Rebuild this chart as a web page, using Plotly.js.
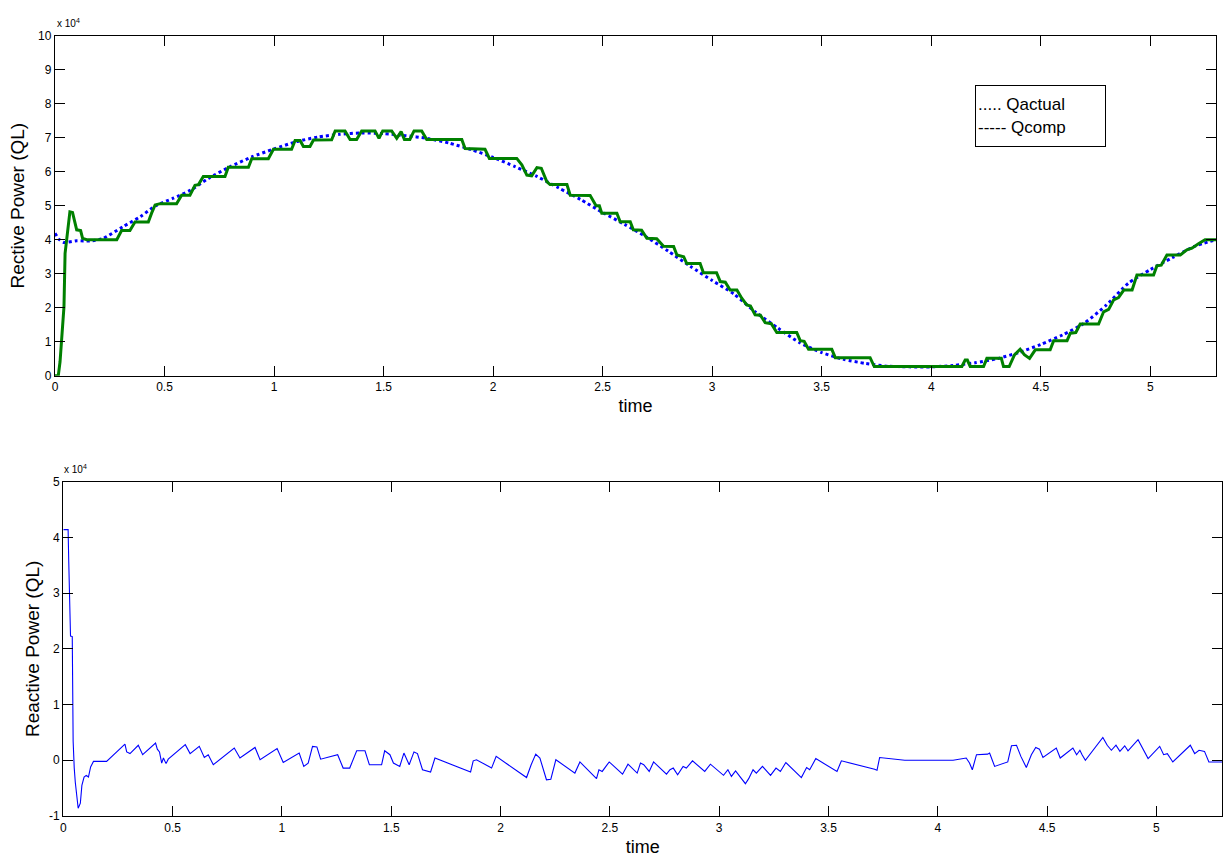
<!DOCTYPE html>
<html>
<head>
<meta charset="utf-8">
<script src="https://cdn.plot.ly/plotly-3.0.1.min.js"></script>
<style>
  html, body { margin: 0; padding: 0; background: #fff; }
  #chart { width: 1223px; height: 861px; }
</style>
</head>
<body>
<div id="chart"></div>
<script>
// ---- Data (values in units of 1e4) ----
const qActualTime = [0, 0.02, 0.04, 0.1, 0.16, 0.22, 0.31, 0.39, 0.46, 0.54, 0.62, 0.7, 0.8, 0.9, 1.0, 1.1, 1.2, 1.3, 1.4, 1.5, 1.6, 1.7, 1.8, 1.9, 2.0, 2.1, 2.2, 2.3, 2.4, 2.5, 2.6, 2.7, 2.8, 2.9, 3.0, 3.1, 3.2, 3.3, 3.4, 3.5, 3.6, 3.7, 3.8, 3.9, 4.0, 4.1, 4.2, 4.3, 4.4, 4.5, 4.6, 4.7, 4.8, 4.9, 5.0, 5.1, 5.2, 5.3];
const qActualValue = [4.19, 4.0, 3.92, 3.97, 3.96, 4.04, 4.38, 4.68, 5.0, 5.22, 5.46, 5.8, 6.15, 6.44, 6.67, 6.88, 7.02, 7.1, 7.14, 7.12, 7.06, 6.98, 6.84, 6.65, 6.42, 6.15, 5.86, 5.52, 5.18, 4.8, 4.45, 4.08, 3.66, 3.22, 2.8, 2.4, 1.86, 1.4, 0.97, 0.68, 0.48, 0.36, 0.28, 0.26, 0.26, 0.3, 0.38, 0.5, 0.68, 0.92, 1.2, 1.55, 2.08, 2.72, 3.12, 3.47, 3.8, 4.0];

const qCompTime = [0, 0.015, 0.023, 0.03, 0.035, 0.041, 0.046, 0.053, 0.061, 0.068, 0.08, 0.088, 0.099, 0.117, 0.126, 0.145, 0.282, 0.304, 0.342, 0.365, 0.426, 0.441, 0.457, 0.48, 0.555, 0.578, 0.616, 0.639, 0.655, 0.677, 0.776, 0.791, 0.883, 0.898, 0.974, 0.997, 1.08, 1.096, 1.119, 1.134, 1.164, 1.18, 1.263, 1.279, 1.324, 1.347, 1.377, 1.40, 1.461, 1.479, 1.496, 1.537, 1.56, 1.58, 1.595, 1.62, 1.639, 1.674, 1.697, 1.857, 1.872, 1.963, 1.983, 2.108, 2.131, 2.154, 2.176, 2.2, 2.22, 2.245, 2.26, 2.337, 2.352, 2.443, 2.47, 2.485, 2.496, 2.565, 2.58, 2.626, 2.64, 2.678, 2.702, 2.747, 2.778, 2.824, 2.839, 2.87, 2.884, 2.945, 2.96, 3.02, 3.037, 3.06, 3.082, 3.113, 3.135, 3.158, 3.175, 3.196, 3.22, 3.242, 3.27, 3.295, 3.386, 3.402, 3.42, 3.44, 3.546, 3.562, 3.721, 3.74, 4.14, 4.155, 4.165, 4.178, 4.239, 4.254, 4.32, 4.33, 4.356, 4.38, 4.406, 4.425, 4.449, 4.475, 4.543, 4.559, 4.62, 4.635, 4.66, 4.68, 4.764, 4.787, 4.81, 4.833, 4.855, 4.879, 4.917, 4.939, 5.015, 5.03, 5.05, 5.076, 5.137, 5.167, 5.19, 5.22, 5.25, 5.3];
const qCompValue = [0, 0, 0.41, 1.15, 1.6, 2.03, 3.6, 4.04, 4.38, 4.82, 4.8, 4.58, 4.29, 4.27, 4.04, 4.0, 4.0, 4.27, 4.27, 4.52, 4.52, 4.78, 5.02, 5.06, 5.06, 5.31, 5.31, 5.6, 5.62, 5.86, 5.86, 6.13, 6.13, 6.38, 6.38, 6.66, 6.66, 6.92, 6.92, 6.74, 6.74, 6.93, 6.94, 7.2, 7.2, 6.95, 6.95, 7.2, 7.2, 6.98, 7.2, 7.2, 6.98, 7.18, 6.95, 6.95, 7.2, 7.2, 6.95, 6.95, 6.68, 6.66, 6.39, 6.39, 6.2, 5.9, 5.88, 6.12, 6.1, 5.71, 5.62, 5.62, 5.31, 5.3, 5.0, 5.0, 4.78, 4.78, 4.53, 4.53, 4.29, 4.28, 4.04, 4.03, 3.81, 3.8, 3.55, 3.5, 3.3, 3.3, 3.03, 3.03, 2.77, 2.75, 2.52, 2.52, 2.28, 2.08, 2.05, 1.79, 1.78, 1.56, 1.53, 1.27, 1.27, 1.03, 1.01, 0.78, 0.78, 0.53, 0.53, 0.27, 0.27, 0.46, 0.46, 0.27, 0.27, 0.51, 0.51, 0.27, 0.27, 0.61, 0.78, 0.62, 0.51, 0.76, 0.76, 1.03, 1.03, 1.25, 1.27, 1.52, 1.52, 1.88, 1.95, 2.23, 2.3, 2.52, 2.52, 2.96, 2.96, 3.23, 3.25, 3.55, 3.55, 3.7, 3.75, 3.88, 4.0, 4.0];

const qDiffTime = [0, 0.022, 0.025, 0.033, 0.041, 0.045, 0.05, 0.055, 0.068, 0.078, 0.085, 0.095, 0.105, 0.115, 0.125, 0.138, 0.198, 0.282, 0.29, 0.305, 0.343, 0.363, 0.422, 0.43, 0.44, 0.45, 0.458, 0.47, 0.48, 0.558, 0.58, 0.622, 0.645, 0.663, 0.686, 0.782, 0.808, 0.877, 0.9, 0.978, 1.006, 1.079, 1.1, 1.12, 1.14, 1.16, 1.177, 1.255, 1.28, 1.31, 1.342, 1.38, 1.40, 1.456, 1.47, 1.494, 1.51, 1.539, 1.558, 1.582, 1.604, 1.62, 1.643, 1.68, 1.70, 1.863, 1.875, 1.89, 1.959, 1.98, 2.119, 2.14, 2.161, 2.18, 2.21, 2.23, 2.253, 2.34, 2.363, 2.439, 2.45, 2.465, 2.497, 2.558, 2.583, 2.60, 2.625, 2.64, 2.655, 2.68, 2.70, 2.759, 2.775, 2.79, 2.81, 2.835, 2.85, 2.878, 2.934, 2.96, 3.02, 3.04, 3.056, 3.075, 3.095, 3.12, 3.135, 3.155, 3.17, 3.198, 3.235, 3.26, 3.28, 3.305, 3.376, 3.40, 3.414, 3.442, 3.539, 3.559, 3.711, 3.722, 3.734, 3.79, 3.849, 4.07, 4.13, 4.145, 4.158, 4.177, 4.228, 4.237, 4.26, 4.32, 4.337, 4.36, 4.38, 4.405, 4.428, 4.448, 4.465, 4.481, 4.542, 4.56, 4.618, 4.635, 4.65, 4.66, 4.675, 4.755, 4.775, 4.794, 4.815, 4.833, 4.855, 4.87, 4.916, 4.962, 5.015, 5.033, 5.05, 5.075, 5.155, 5.175, 5.195, 5.22, 5.24, 5.3];
const qDiffValue = [4.14, 4.14, 3.55, 2.23, 2.22, 0.34, -0.14, -0.4, -0.86, -0.77, -0.45, -0.3, -0.27, -0.3, -0.12, -0.02, -0.02, 0.29, 0.15, 0.12, 0.27, 0.1, 0.31, 0.2, 0.15, -0.05, 0.04, -0.06, 0.02, 0.28, 0.12, 0.25, 0.05, 0.1, -0.08, 0.22, 0.04, 0.23, 0.01, 0.21, -0.04, 0.13, -0.11, -0.05, 0.25, 0.24, 0.02, 0.1, -0.14, -0.14, 0.17, 0.17, -0.08, -0.08, 0.17, 0.1, -0.05, -0.11, 0.13, -0.08, 0.15, 0.12, -0.17, -0.21, 0.04, -0.21, -0.01, 0.01, -0.14, 0.07, -0.31, -0.08, 0.11, 0.04, -0.35, -0.34, 0.01, -0.23, -0.03, -0.33, -0.17, -0.2, -0.03, -0.25, -0.07, -0.14, -0.23, -0.05, -0.08, -0.2, -0.03, -0.25, -0.17, -0.14, -0.26, -0.11, -0.14, -0.01, -0.2, -0.07, -0.27, -0.17, -0.29, -0.19, -0.29, -0.42, -0.33, -0.17, -0.23, -0.11, -0.27, -0.14, -0.2, -0.04, -0.31, -0.13, -0.17, 0.03, -0.2, -0.01, -0.16, -0.18, 0.05, 0.03, 0.0, 0.0, 0.04, -0.05, -0.17, 0.1, 0.11, 0.13, -0.11, -0.03, 0.26, 0.27, 0.07, -0.13, 0.1, 0.23, 0.2, 0.05, 0.22, 0.04, 0.22, 0.1, 0.18, 0.1, 0.0, 0.41, 0.27, 0.18, 0.27, 0.16, 0.26, 0.17, 0.37, 0.03, 0.25, 0.1, 0.12, -0.03, 0.27, 0.12, 0.18, 0.16, -0.03, -0.03];

const xTickValues = [0, 0.5, 1, 1.5, 2, 2.5, 3, 3.5, 4, 4.5, 5];
const xTickLabels = ['0', '0.5', '1', '1.5', '2', '2.5', '3', '3.5', '4', '4.5', '5'];
const topYTicks = [0, 1, 2, 3, 4, 5, 6, 7, 8, 9, 10];
const topYLabels = ['0', '1', '2', '3', '4', '5', '6', '7', '8', '9', '10'];
const bottomYTicks = [-1, 0, 1, 2, 3, 4, 5];
const bottomYLabels = ['-1', '0', '1', '2', '3', '4', '5'];

// ---- Layout geometry (pixels of the 1223x861 page) ----
const W = 1223, H = 861;
const fx = px => px / W;
const fy = py => 1 - py / H;

const FONT = 'Liberation Sans, Arial, Helvetica, sans-serif';

const axisCommon = {
  showgrid: false,
  zeroline: false,
  showline: true,
  linecolor: '#000',
  linewidth: 1.2,
  mirror: 'ticks',
  ticks: 'inside',
  ticklen: 10,
  tickwidth: 1,
  tickcolor: '#000',
  tickfont: { family: FONT, size: 12, color: '#000' },
  automargin: false
};

const traces = [
  {
    x: qActualTime, y: qActualValue, xaxis: 'x', yaxis: 'y',
    type: 'scatter', mode: 'lines', name: 'Qactual',
    line: { color: '#0000ff', width: 3, dash: 'dot', shape: 'spline', smoothing: 0.6 }
  },
  {
    x: qCompTime, y: qCompValue, xaxis: 'x', yaxis: 'y',
    type: 'scatter', mode: 'lines', name: 'Qcomp',
    line: { color: '#008000', width: 3 }
  },
  {
    x: qDiffTime, y: qDiffValue, xaxis: 'x2', yaxis: 'y2',
    type: 'scatter', mode: 'lines', name: 'Reactive Power',
    line: { color: '#0000ff', width: 1.1 }
  }
];

const layout = {
  width: W, height: H,
  paper_bgcolor: '#fff', plot_bgcolor: '#fff',
  margin: { l: 0, r: 0, t: 0, b: 0 },
  showlegend: false,
  font: { family: FONT, color: '#000' },
  xaxis: Object.assign({}, axisCommon, {
    domain: [fx(55), fx(1216)], anchor: 'y', range: [0, 5.3],
    tickvals: xTickValues, ticktext: xTickLabels,
    title: { text: 'time', font: { family: FONT, size: 18, color: '#000' }, standoff: 6 }
  }),
  yaxis: Object.assign({}, axisCommon, {
    domain: [fy(375.7), fy(35.7)], anchor: 'x', range: [0, 10],
    tickvals: topYTicks, ticktext: topYLabels,
    title: { text: 'Rective Power (QL)', font: { family: FONT, size: 19, color: '#000' }, standoff: 8 }
  }),
  xaxis2: Object.assign({}, axisCommon, {
    domain: [fx(63.3), fx(1222)], anchor: 'y2', range: [0, 5.3],
    tickvals: xTickValues, ticktext: xTickLabels,
    title: { text: 'time', font: { family: FONT, size: 18, color: '#000' }, standoff: 6 }
  }),
  yaxis2: Object.assign({}, axisCommon, {
    domain: [fy(816), fy(481.7)], anchor: 'x2', range: [-1, 5],
    tickvals: bottomYTicks, ticktext: bottomYLabels,
    title: { text: 'Reactive Power (QL)', font: { family: FONT, size: 19, color: '#000' }, standoff: 4 }
  }),
  annotations: [
    {
      xref: 'paper', yref: 'paper', x: fx(55), y: fy(31), xanchor: 'left', yanchor: 'bottom',
      text: 'x 10<sup>4</sup>', showarrow: false,
      font: { family: FONT, size: 10, color: '#000' }
    },
    {
      xref: 'paper', yref: 'paper', x: fx(62), y: fy(477), xanchor: 'left', yanchor: 'bottom',
      text: 'x 10<sup>4</sup>', showarrow: false,
      font: { family: FONT, size: 10, color: '#000' }
    },
    {
      xref: 'paper', yref: 'paper', x: fx(975), y: fy(85), xanchor: 'left', yanchor: 'top',
      text: '..... Qactual<br>----- Qcomp', showarrow: false, align: 'left',
      width: 125, height: 56, borderpad: 2,
      bordercolor: '#000', borderwidth: 1, bgcolor: '#fff',
      font: { family: FONT, size: 17, color: '#000' }
    }
  ]
};

Plotly.newPlot('chart', traces, layout, { displayModeBar: false, staticPlot: true });
</script>
</body>
</html>
